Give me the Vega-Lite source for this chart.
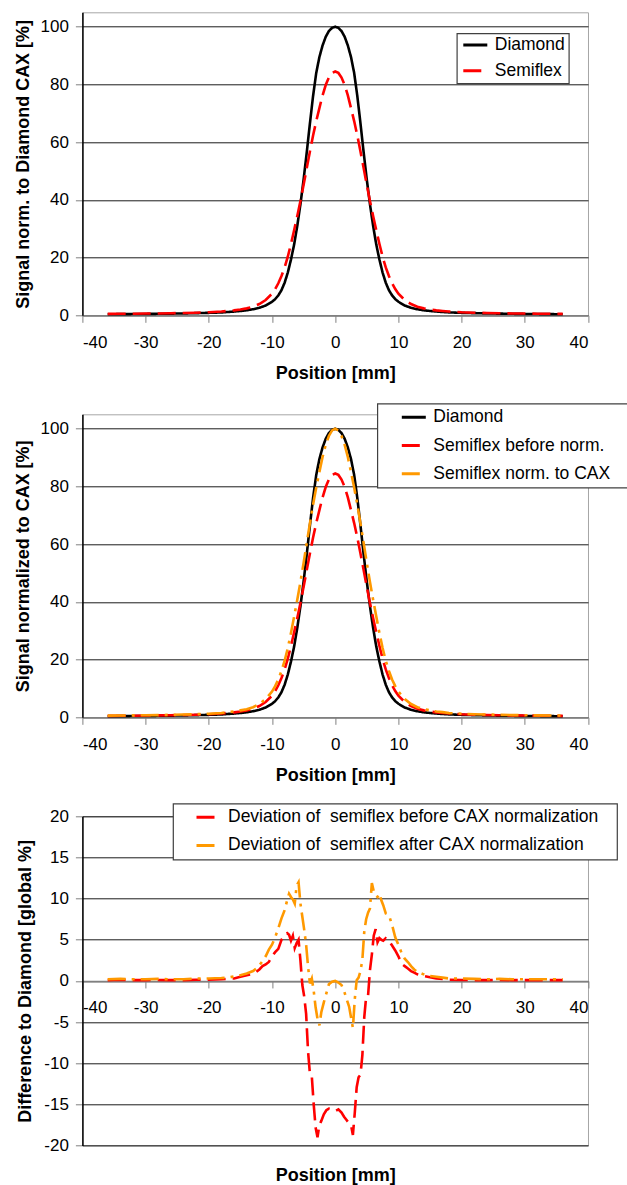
{
  "$schema": "https://vega.github.io/schema/vega-lite/v6.json",
  "autosize": {"type": "none"},
  "padding": {"left": 82.4, "top": 12.3, "right": 544.6, "bottom": 1172.7},
  "background": "#ffffff",
  "spacing": 99,
  "bounds": "flush",
  "resolve": {
    "scale": {"color": "independent", "strokeDash": "independent", "x": "independent", "y": "independent"},
    "legend": {"color": "independent", "strokeDash": "independent"}
  },
  "config": {
    "font": "Liberation Sans",
    "view": {"stroke": "#a6a6a6", "strokeWidth": 1},
    "axis": {
      "labelFont": "Liberation Sans", "labelFontSize": 17, "labelColor": "#000000",
      "labelExpr": "toString(datum.value)",
      "titleFont": "Liberation Sans", "titleFontSize": 18, "titleFontWeight": "bold", "titleColor": "#000000",
      "tickColor": "#808080", "tickWidth": 1, "domainColor": "#000000", "domainWidth": 1.5,
      "gridColor": "#000000", "gridOpacity": 0.9, "gridWidth": 1
    },
    "legend": {
      "labelFont": "Liberation Sans", "labelFontSize": 17.5, "labelColor": "#000000", "labelLimit": 0,
      "symbolType": "stroke", "symbolSize": 576, "symbolStrokeWidth": 3, "clipHeight": 17.5, "labelOffset": 6,
      "fillColor": "#ffffff", "strokeColor": "#404040", "strokeWidth": 1.2
    }
  },
  "datasets": {
    "profiles": [
      {"x": -36, "Diamond": 0.37, "Semiflex": 0.5, "Normalized": 0.59},
      {"x": -34, "Diamond": 0.4, "Semiflex": 0.52, "Normalized": 0.62},
      {"x": -32, "Diamond": 0.43, "Semiflex": 0.55, "Normalized": 0.65},
      {"x": -30, "Diamond": 0.47, "Semiflex": 0.6, "Normalized": 0.71},
      {"x": -28, "Diamond": 0.52, "Semiflex": 0.65, "Normalized": 0.77},
      {"x": -26, "Diamond": 0.58, "Semiflex": 0.72, "Normalized": 0.85},
      {"x": -24, "Diamond": 0.65, "Semiflex": 0.8, "Normalized": 0.95},
      {"x": -22, "Diamond": 0.75, "Semiflex": 0.9, "Normalized": 1.07},
      {"x": -20, "Diamond": 0.85, "Semiflex": 1.05, "Normalized": 1.25},
      {"x": -18, "Diamond": 1.0, "Semiflex": 1.3, "Normalized": 1.5},
      {"x": -17, "Diamond": 1.15, "Semiflex": 1.5, "Normalized": 1.8},
      {"x": -16, "Diamond": 1.3, "Semiflex": 1.7, "Normalized": 2.0},
      {"x": -15, "Diamond": 1.5, "Semiflex": 2.0, "Normalized": 2.4},
      {"x": -14, "Diamond": 1.75, "Semiflex": 2.4, "Normalized": 2.8},
      {"x": -13, "Diamond": 2.1, "Semiflex": 3.0, "Normalized": 3.5},
      {"x": -12, "Diamond": 2.6, "Semiflex": 3.9, "Normalized": 4.6},
      {"x": -11, "Diamond": 3.4, "Semiflex": 5.3, "Normalized": 6.3},
      {"x": -10, "Diamond": 4.7, "Semiflex": 7.5, "Normalized": 8.9},
      {"x": -9.5, "Diamond": 5.6, "Semiflex": 9.1, "Normalized": 10.8},
      {"x": -9, "Diamond": 6.9, "Semiflex": 11.1, "Normalized": 13.1},
      {"x": -8.5, "Diamond": 8.7, "Semiflex": 13.6, "Normalized": 16.1},
      {"x": -8, "Diamond": 11.3, "Semiflex": 16.6, "Normalized": 19.6},
      {"x": -7.5, "Diamond": 14.8, "Semiflex": 20.3, "Normalized": 24.0},
      {"x": -7, "Diamond": 19.3, "Semiflex": 24.7, "Normalized": 29.2},
      {"x": -6.5, "Diamond": 24.5, "Semiflex": 29.5, "Normalized": 34.9},
      {"x": -6, "Diamond": 31, "Semiflex": 34.4, "Normalized": 40.7},
      {"x": -5.5, "Diamond": 38.5, "Semiflex": 39.6, "Normalized": 46.9},
      {"x": -5, "Diamond": 47, "Semiflex": 45.2, "Normalized": 53.5},
      {"x": -4.5, "Diamond": 56.5, "Semiflex": 51.0, "Normalized": 60.4},
      {"x": -4, "Diamond": 66.5, "Semiflex": 56.8, "Normalized": 67.2},
      {"x": -3.5, "Diamond": 76, "Semiflex": 62.3, "Normalized": 73.7},
      {"x": -3, "Diamond": 84, "Semiflex": 67.3, "Normalized": 79.6},
      {"x": -2.5, "Diamond": 89.5, "Semiflex": 71.8, "Normalized": 85.0},
      {"x": -2, "Diamond": 93.5, "Semiflex": 76.2, "Normalized": 90.2},
      {"x": -1.5, "Diamond": 96.5, "Semiflex": 79.8, "Normalized": 94.4},
      {"x": -1, "Diamond": 98.5, "Semiflex": 82.4, "Normalized": 97.5},
      {"x": -0.5, "Diamond": 99.6, "Semiflex": 84.0, "Normalized": 99.4},
      {"x": 0, "Diamond": 100, "Semiflex": 84.5, "Normalized": 100},
      {"x": 0.5, "Diamond": 99.6, "Semiflex": 84.0, "Normalized": 99.4},
      {"x": 1, "Diamond": 98.5, "Semiflex": 82.4, "Normalized": 97.5},
      {"x": 1.5, "Diamond": 96.5, "Semiflex": 79.8, "Normalized": 94.4},
      {"x": 2, "Diamond": 93.5, "Semiflex": 76.2, "Normalized": 90.2},
      {"x": 2.5, "Diamond": 89.5, "Semiflex": 71.8, "Normalized": 85.0},
      {"x": 3, "Diamond": 84, "Semiflex": 67.3, "Normalized": 79.6},
      {"x": 3.5, "Diamond": 76, "Semiflex": 62.3, "Normalized": 73.7},
      {"x": 4, "Diamond": 66.5, "Semiflex": 56.8, "Normalized": 67.2},
      {"x": 4.5, "Diamond": 56.5, "Semiflex": 51.0, "Normalized": 60.4},
      {"x": 5, "Diamond": 47, "Semiflex": 45.2, "Normalized": 53.5},
      {"x": 5.5, "Diamond": 38.5, "Semiflex": 39.6, "Normalized": 46.9},
      {"x": 6, "Diamond": 31, "Semiflex": 34.4, "Normalized": 40.7},
      {"x": 6.5, "Diamond": 24.5, "Semiflex": 29.5, "Normalized": 34.9},
      {"x": 7, "Diamond": 19.3, "Semiflex": 24.7, "Normalized": 29.2},
      {"x": 7.5, "Diamond": 14.8, "Semiflex": 20.3, "Normalized": 24.0},
      {"x": 8, "Diamond": 11.3, "Semiflex": 16.6, "Normalized": 19.6},
      {"x": 8.5, "Diamond": 8.7, "Semiflex": 13.6, "Normalized": 16.1},
      {"x": 9, "Diamond": 6.9, "Semiflex": 11.1, "Normalized": 13.1},
      {"x": 9.5, "Diamond": 5.6, "Semiflex": 9.1, "Normalized": 10.8},
      {"x": 10, "Diamond": 4.7, "Semiflex": 7.5, "Normalized": 8.9},
      {"x": 11, "Diamond": 3.4, "Semiflex": 5.3, "Normalized": 6.3},
      {"x": 12, "Diamond": 2.6, "Semiflex": 3.9, "Normalized": 4.6},
      {"x": 13, "Diamond": 2.1, "Semiflex": 3.0, "Normalized": 3.5},
      {"x": 14, "Diamond": 1.75, "Semiflex": 2.4, "Normalized": 2.8},
      {"x": 15, "Diamond": 1.5, "Semiflex": 2.0, "Normalized": 2.4},
      {"x": 16, "Diamond": 1.3, "Semiflex": 1.7, "Normalized": 2.0},
      {"x": 17, "Diamond": 1.15, "Semiflex": 1.5, "Normalized": 1.8},
      {"x": 18, "Diamond": 1.0, "Semiflex": 1.3, "Normalized": 1.5},
      {"x": 20, "Diamond": 0.85, "Semiflex": 1.05, "Normalized": 1.25},
      {"x": 22, "Diamond": 0.75, "Semiflex": 0.9, "Normalized": 1.07},
      {"x": 24, "Diamond": 0.65, "Semiflex": 0.8, "Normalized": 0.95},
      {"x": 26, "Diamond": 0.58, "Semiflex": 0.72, "Normalized": 0.85},
      {"x": 28, "Diamond": 0.52, "Semiflex": 0.65, "Normalized": 0.77},
      {"x": 30, "Diamond": 0.47, "Semiflex": 0.6, "Normalized": 0.71},
      {"x": 32, "Diamond": 0.43, "Semiflex": 0.55, "Normalized": 0.65},
      {"x": 34, "Diamond": 0.4, "Semiflex": 0.52, "Normalized": 0.62},
      {"x": 36, "Diamond": 0.37, "Semiflex": 0.5, "Normalized": 0.59}
    ],
    "deviation": [
      {"x": -36, "before": 0.1, "after": 0.2},
      {"x": -34, "before": 0.15, "after": 0.25},
      {"x": -32, "before": 0.1, "after": 0.2},
      {"x": -30, "before": 0.1, "after": 0.2},
      {"x": -28, "before": 0.12, "after": 0.25},
      {"x": -26, "before": 0.1, "after": 0.2},
      {"x": -24, "before": 0.1, "after": 0.2},
      {"x": -22, "before": 0.15, "after": 0.3},
      {"x": -20, "before": 0.15, "after": 0.3},
      {"x": -18, "before": 0.2, "after": 0.35},
      {"x": -17, "before": 0.25, "after": 0.4},
      {"x": -16, "before": 0.3, "after": 0.55},
      {"x": -15, "before": 0.5, "after": 0.7},
      {"x": -14, "before": 0.7, "after": 0.9},
      {"x": -13, "before": 0.85, "after": 1.2},
      {"x": -12.5, "before": 1.1, "after": 1.5},
      {"x": -12, "before": 1.4, "after": 1.9},
      {"x": -11.5, "before": 1.8, "after": 2.4},
      {"x": -11, "before": 2.0, "after": 3.0},
      {"x": -10.5, "before": 2.3, "after": 3.8},
      {"x": -10, "before": 3.0, "after": 4.4},
      {"x": -9.5, "before": 3.5, "after": 5.3},
      {"x": -9, "before": 3.9, "after": 6.4},
      {"x": -8.5, "before": 5.0, "after": 7.6},
      {"x": -8, "before": 5.6, "after": 8.6},
      {"x": -7.6, "before": 5.8, "after": 9.8},
      {"x": -7.3, "before": 5.6, "after": 10.6},
      {"x": -7, "before": 4.9, "after": 10.2},
      {"x": -6.7, "before": 5.5, "after": 9.9},
      {"x": -6.4, "before": 4.0, "after": 9.4},
      {"x": -6.1, "before": 4.6, "after": 11.6},
      {"x": -5.8, "before": 5.0, "after": 12.0},
      {"x": -5.5, "before": 2.5, "after": 9.4},
      {"x": -5.2, "before": -0.5, "after": 7.8},
      {"x": -4.9, "before": -1.9, "after": 6.2},
      {"x": -4.6, "before": -4.0, "after": 4.4},
      {"x": -4.3, "before": -8.5, "after": 1.8},
      {"x": -4, "before": -11.3, "after": -0.3},
      {"x": -3.7, "before": -11.6, "after": 0.3},
      {"x": -3.4, "before": -15.0, "after": -1.2},
      {"x": -3.1, "before": -17.8, "after": -3.2},
      {"x": -2.8, "before": -19.0, "after": -4.6},
      {"x": -2.5, "before": -17.5, "after": -5.4},
      {"x": -2.2, "before": -17.0, "after": -3.8},
      {"x": -1.8, "before": -16.2, "after": -2.6},
      {"x": -1.4, "before": -15.7, "after": -1.5},
      {"x": -1, "before": -15.5, "after": -0.4},
      {"x": -0.5, "before": -15.6, "after": -0.1},
      {"x": 0, "before": -15.8, "after": 0},
      {"x": 0.5, "before": -15.6, "after": -0.2},
      {"x": 1, "before": -16.0, "after": -0.5},
      {"x": 1.4, "before": -16.5, "after": -1.2},
      {"x": 1.8, "before": -16.9, "after": -2.2},
      {"x": 2.2, "before": -17.3, "after": -3.1},
      {"x": 2.5, "before": -17.5, "after": -4.4},
      {"x": 2.8, "before": -18.7, "after": -5.7},
      {"x": 3.1, "before": -16.0, "after": -2.2},
      {"x": 3.4, "before": -12.9, "after": 0.1},
      {"x": 3.7, "before": -11.7, "after": 0.4},
      {"x": 4, "before": -11.4, "after": 1.2},
      {"x": 4.3, "before": -9.0, "after": 2.6},
      {"x": 4.6, "before": -4.4, "after": 6.0},
      {"x": 4.9, "before": -1.9, "after": 7.5},
      {"x": 5.2, "before": -1.8, "after": 8.3},
      {"x": 5.5, "before": 1.3, "after": 8.8},
      {"x": 5.8, "before": 3.2, "after": 11.9},
      {"x": 6.1, "before": 5.5, "after": 10.9},
      {"x": 6.4, "before": 6.3, "after": 10.4},
      {"x": 6.7, "before": 4.7, "after": 10.2},
      {"x": 7, "before": 5.2, "after": 10.6},
      {"x": 7.3, "before": 5.0, "after": 9.8},
      {"x": 7.6, "before": 4.9, "after": 9.2},
      {"x": 8, "before": 5.2, "after": 8.2},
      {"x": 8.5, "before": 4.9, "after": 8.0},
      {"x": 9, "before": 4.3, "after": 6.8},
      {"x": 9.5, "before": 3.7, "after": 5.3},
      {"x": 10, "before": 3.0, "after": 4.4},
      {"x": 10.5, "before": 2.1, "after": 3.4},
      {"x": 11, "before": 1.8, "after": 2.7},
      {"x": 11.5, "before": 1.5, "after": 2.3},
      {"x": 12, "before": 1.2, "after": 1.8},
      {"x": 12.5, "before": 1.0, "after": 1.4},
      {"x": 13, "before": 0.8, "after": 1.1},
      {"x": 14, "before": 0.6, "after": 0.8},
      {"x": 15, "before": 0.45, "after": 0.6},
      {"x": 16, "before": 0.3, "after": 0.5},
      {"x": 17, "before": 0.25, "after": 0.4},
      {"x": 18, "before": 0.15, "after": 0.3},
      {"x": 20, "before": 0.12, "after": 0.3},
      {"x": 22, "before": 0.1, "after": 0.25},
      {"x": 24, "before": 0.1, "after": 0.2},
      {"x": 26, "before": 0.12, "after": 0.25},
      {"x": 28, "before": 0.1, "after": 0.2},
      {"x": 30, "before": 0.1, "after": 0.2},
      {"x": 32, "before": 0.1, "after": 0.2},
      {"x": 34, "before": 0.1, "after": 0.2},
      {"x": 36, "before": 0.1, "after": 0.2}
    ]
  },
  "vconcat": [
    {
      "width": 505.6,
      "height": 303,
      "data": {"name": "profiles"},
      "transform": [{"fold": ["Diamond", "Semiflex"], "as": ["series", "value"]}],
      "mark": {"type": "line", "strokeWidth": 2.6},
      "encoding": {
        "x": {"field": "x", "type": "quantitative",
          "scale": {"domain": [-40, 40], "nice": false},
          "axis": {"values": [-40, -30, -20, -10, 0, 10, 20, 30, 40], "title": "Position [mm]", "grid": false,
            "domainColor": "#808080", "tickSize": 7, "labelPadding": 12, "titleBaseline": "top", "titleY": 49}},
        "y": {"field": "value", "type": "quantitative",
          "scale": {"domain": [0, 105], "nice": false},
          "axis": {"values": [0, 20, 40, 60, 80, 100], "title": "Signal norm. to Diamond CAX [%]", "grid": true,
            "tickSize": 7, "labelPadding": 7, "titleBaseline": "alphabetic", "titleX": -54}},
        "color": {"field": "series", "type": "nominal",
          "scale": {"domain": ["Diamond", "Semiflex"], "range": ["#000000", "#ff0000"]},
          "legend": {"title": null, "orient": "none", "legendX": 374.4, "legendY": 21, "padding": 3, "symbolOffset": 2, "rowPadding": 6.8}},
        "strokeDash": {"field": "series", "type": "nominal",
          "scale": {"domain": ["Diamond", "Semiflex"], "range": [[1, 0], [18, 7]]},
          "legend": {"title": null, "orient": "none", "legendX": 374.4, "legendY": 21, "padding": 3, "symbolOffset": 2, "rowPadding": 6.8}}
      }
    },
    {
      "width": 505.6,
      "height": 303,
      "data": {"name": "profiles"},
      "transform": [{"fold": ["Diamond", "Semiflex", "Normalized"], "as": ["series", "value"]}],
      "mark": {"type": "line", "strokeWidth": 2.6},
      "encoding": {
        "x": {"field": "x", "type": "quantitative",
          "scale": {"domain": [-40, 40], "nice": false},
          "axis": {"values": [-40, -30, -20, -10, 0, 10, 20, 30, 40], "title": "Position [mm]", "grid": false,
            "domainColor": "#808080", "tickSize": 7, "labelPadding": 12, "titleBaseline": "top", "titleY": 49}},
        "y": {"field": "value", "type": "quantitative",
          "scale": {"domain": [0, 105], "nice": false},
          "axis": {"values": [0, 20, 40, 60, 80, 100], "title": "Signal normalized to CAX [%]", "grid": true,
            "tickSize": 7, "labelPadding": 7, "titleBaseline": "alphabetic", "titleX": -54}},
        "color": {"field": "series", "type": "nominal",
          "scale": {"domain": ["Diamond", "Semiflex", "Normalized"], "range": ["#000000", "#ff0000", "#ff9900"]},
          "legend": {"title": null, "orient": "none", "legendX": 294.9, "legendY": -10.7, "padding": 5, "symbolOffset": 18, "rowPadding": 9.2,
            "labelExpr": "(datum.label == 'Semiflex' ? 'Semiflex before norm.' : datum.label == 'Normalized' ? 'Semiflex norm. to CAX' : datum.label) + '\u2800'"}},
        "strokeDash": {"field": "series", "type": "nominal",
          "scale": {"domain": ["Diamond", "Semiflex", "Normalized"], "range": [[1, 0], [18, 7], [18, 6, 3, 6]]},
          "legend": {"title": null, "orient": "none", "legendX": 294.9, "legendY": -10.7, "padding": 5, "symbolOffset": 18, "rowPadding": 9.2,
            "labelExpr": "(datum.label == 'Semiflex' ? 'Semiflex before norm.' : datum.label == 'Normalized' ? 'Semiflex norm. to CAX' : datum.label) + '\u2800'"}}
      }
    },
    {
      "width": 505.6,
      "height": 329.3,
      "data": {"name": "deviation"},
      "transform": [{"fold": ["before", "after"], "as": ["series", "value"]}],
      "mark": {"type": "line", "strokeWidth": 2.6},
      "encoding": {
        "x": {"field": "x", "type": "quantitative",
          "scale": {"domain": [-40, 40], "nice": false},
          "axis": {"values": [-40, -30, -20, -10, 0, 10, 20, 30, 40], "title": "Position [mm]", "grid": false, "offset": -164.65,
            "domainColor": "#808080", "tickSize": 7, "labelPadding": 12, "titleBaseline": "top", "titleY": 186}},
        "y": {"field": "value", "type": "quantitative",
          "scale": {"domain": [-20, 20], "nice": false},
          "axis": {"values": [-20, -15, -10, -5, 0, 5, 10, 15, 20], "title": "Difference to Diamond [global %]", "grid": true,
            "tickSize": 7, "labelPadding": 7, "titleBaseline": "alphabetic", "titleX": -52}},
        "color": {"field": "series", "type": "nominal",
          "scale": {"domain": ["before", "after"], "range": ["#ff0000", "#ff9900"]},
          "legend": {"title": null, "orient": "none", "legendX": 90.6, "legendY": -12.7, "padding": 5, "symbolOffset": 17, "rowPadding": 9.1,
            "labelExpr": "(datum.label == 'before' ? 'Deviation of\u00a0 semiflex before CAX normalization' : 'Deviation of\u00a0 semiflex after CAX normalization') + '\u2800'"}},
        "strokeDash": {"field": "series", "type": "nominal",
          "scale": {"domain": ["before", "after"], "range": [[18, 7], [18, 6, 3, 6]]},
          "legend": {"title": null, "orient": "none", "legendX": 90.6, "legendY": -12.7, "padding": 5, "symbolOffset": 17, "rowPadding": 9.1,
            "labelExpr": "(datum.label == 'before' ? 'Deviation of\u00a0 semiflex before CAX normalization' : 'Deviation of\u00a0 semiflex after CAX normalization') + '\u2800'"}}
      }
    }
  ]
}
